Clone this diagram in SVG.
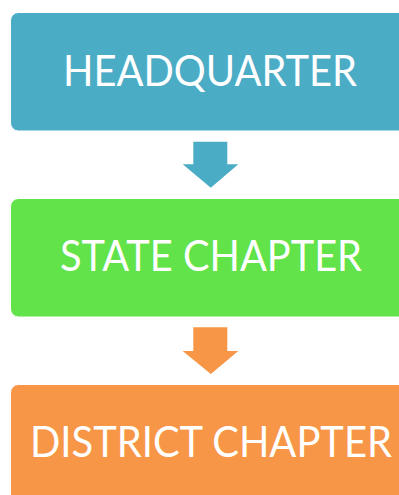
<svg xmlns="http://www.w3.org/2000/svg" width="399" height="495" viewBox="0 0 399 495">
<style>
.box{stroke:#ffffff;stroke-width:1}
.lbl{font-family:Lato,"Open Sans","Liberation Sans",sans-serif;font-size:42px;fill:#ffffff;text-anchor:middle}
</style>
<rect width="399" height="495" fill="#ffffff"/>
<g id="headquarter">
<rect class="box" x="10.5" y="12.5" width="400" height="118.5" rx="8" fill="#4BACC6"/>
<text class="lbl" x="210" y="86" textLength="294" lengthAdjust="spacingAndGlyphs">HEADQUARTER</text>
</g>
<g id="state-chapter">
<rect class="box" x="10.5" y="198.5" width="400" height="118.5" rx="8" fill="#62E34A"/>
<text class="lbl" x="211" y="271" textLength="302" lengthAdjust="spacingAndGlyphs">STATE CHAPTER</text>
</g>
<g id="district-chapter">
<rect class="box" x="10.5" y="384.5" width="400" height="130" rx="8" fill="#F79646"/>
<text class="lbl" x="211" y="457" textLength="362" lengthAdjust="spacingAndGlyphs">DISTRICT CHAPTER</text>
</g>
<g id="connectors">
<polygon points="193.3,141.7 227.3,141.7 227.3,164.3 238.3,164.3 210.8,187.7 182.7,164.3 193.3,164.3" fill="#4BACC6"/>
<polygon points="193.3,327.3 227.3,327.3 227.3,351 238.3,351 210.8,374 182.7,351 193.3,351" fill="#F79646"/>
</g>
</svg>
